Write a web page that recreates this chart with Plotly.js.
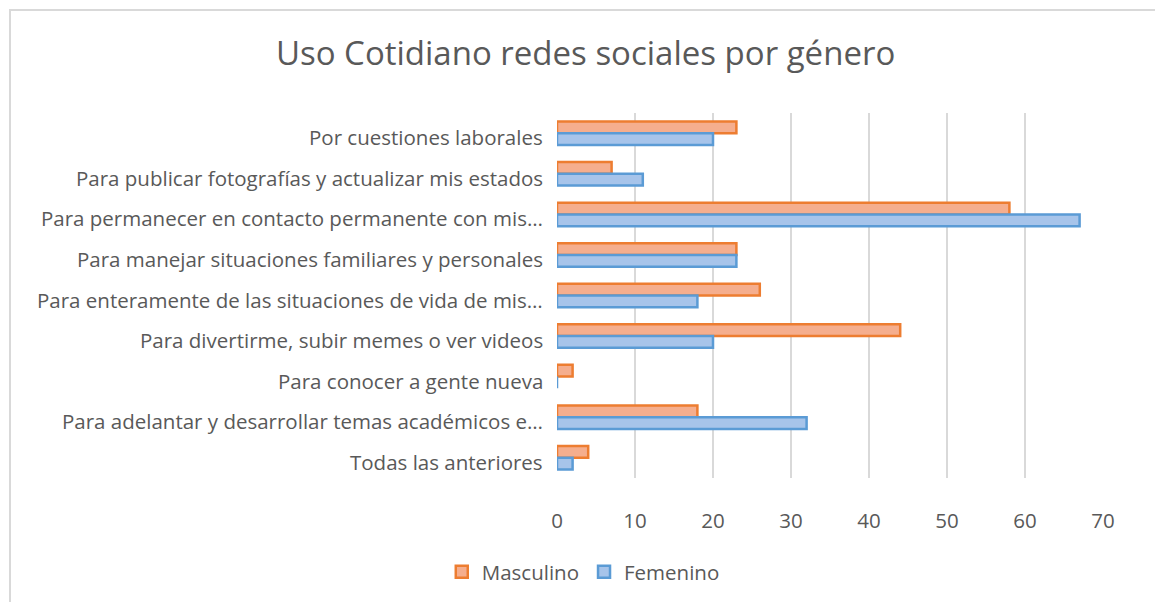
<!DOCTYPE html>
<html>
<head>
<meta charset="utf-8">
<script src="https://cdn.plot.ly/plotly-3.0.1.min.js"></script>
<style>
html,body{margin:0;padding:0;background:#fff;}
#wrap{position:relative;width:1155px;height:602px;overflow:hidden;}
#chart{width:1155px;height:602px;}
#frame{position:absolute;left:9px;top:9px;width:1200px;height:700px;border-left:2px solid #d9d9d9;border-top:2px solid #d9d9d9;pointer-events:none;}
</style>
</head>
<body>
<div id="wrap"><div id="chart"></div><div id="frame"></div></div>
<script>
const categories = [
  "Por cuestiones laborales",
  "Para publicar fotografías y actualizar mis estados",
  "Para permanecer en contacto permanente con mis…",
  "Para manejar situaciones familiares y personales",
  "Para enteramente de las situaciones de vida de mis…",
  "Para divertirme, subir memes o ver videos",
  "Para conocer a gente nueva",
  "Para adelantar y desarrollar temas académicos e…",
  "Todas las anteriores"
];
const masculino = [23, 7, 58, 23, 26, 44, 2, 18, 4];
const femenino  = [20, 11, 67, 23, 18, 20, 0, 32, 2];
const xTicks = [0, 10, 20, 30, 40, 50, 60, 70];

const font = "'Open Sans', sans-serif";
const traces = [
  {type:'bar', orientation:'h', name:'Masculino', y:categories, x:masculino,
   marker:{color:'#F5AE8E', line:{color:'#ED7D31', width:2.5}}},
  {type:'bar', orientation:'h', name:'Femenino', y:categories, x:femenino,
   marker:{color:'#A7C4EA', line:{color:'#5B9BD5', width:2.5}}}
];
const catLabels = categories.map(c => ({
  text:c, xref:'x', yref:'y', x:0, y:c, xanchor:'right', yanchor:'middle',
  xshift:-12, yshift:-4, showarrow:false,
  font:{family:font, size:20.5, color:'#595959'}
}));
const layout = {
  width:1155, height:602,
  paper_bgcolor:'rgba(0,0,0,0)', plot_bgcolor:'rgba(0,0,0,0)',
  margin:{l:557, r:52, t:113, b:124},
  title:{text:'Uso Cotidiano redes sociales por género', x:0.507, xanchor:'center', y:0.912, yanchor:'middle',
         font:{family:font, size:33, color:'#595959'}},
  barmode:'group', bargap:0.42, bargroupgap:0,
  xaxis:{range:[0,70], tickvals:xTicks, showgrid:true, gridcolor:'#d9d9d9', gridwidth:2,
         zeroline:false, showline:false, ticks:'', ticklabelstandoff:28,
         tickfont:{family:font, size:20.5, color:'#595959'}, fixedrange:true},
  yaxis:{type:'category', categoryarray:categories, autorange:'reversed', showgrid:false, zeroline:false,
         showline:false, ticks:'', showticklabels:false},
  annotations:catLabels,
  showlegend:true,
  legend:{orientation:'h', xref:'container', yref:'container', x:0.505, y:0.05, xanchor:'center', yanchor:'middle',
          font:{family:font, size:20.5, color:'#595959'}, itemwidth:30, traceorder:'normal'}
};
Plotly.newPlot('chart', traces, layout, {displayModeBar:false, staticPlot:true});
</script>
</body>
</html>
